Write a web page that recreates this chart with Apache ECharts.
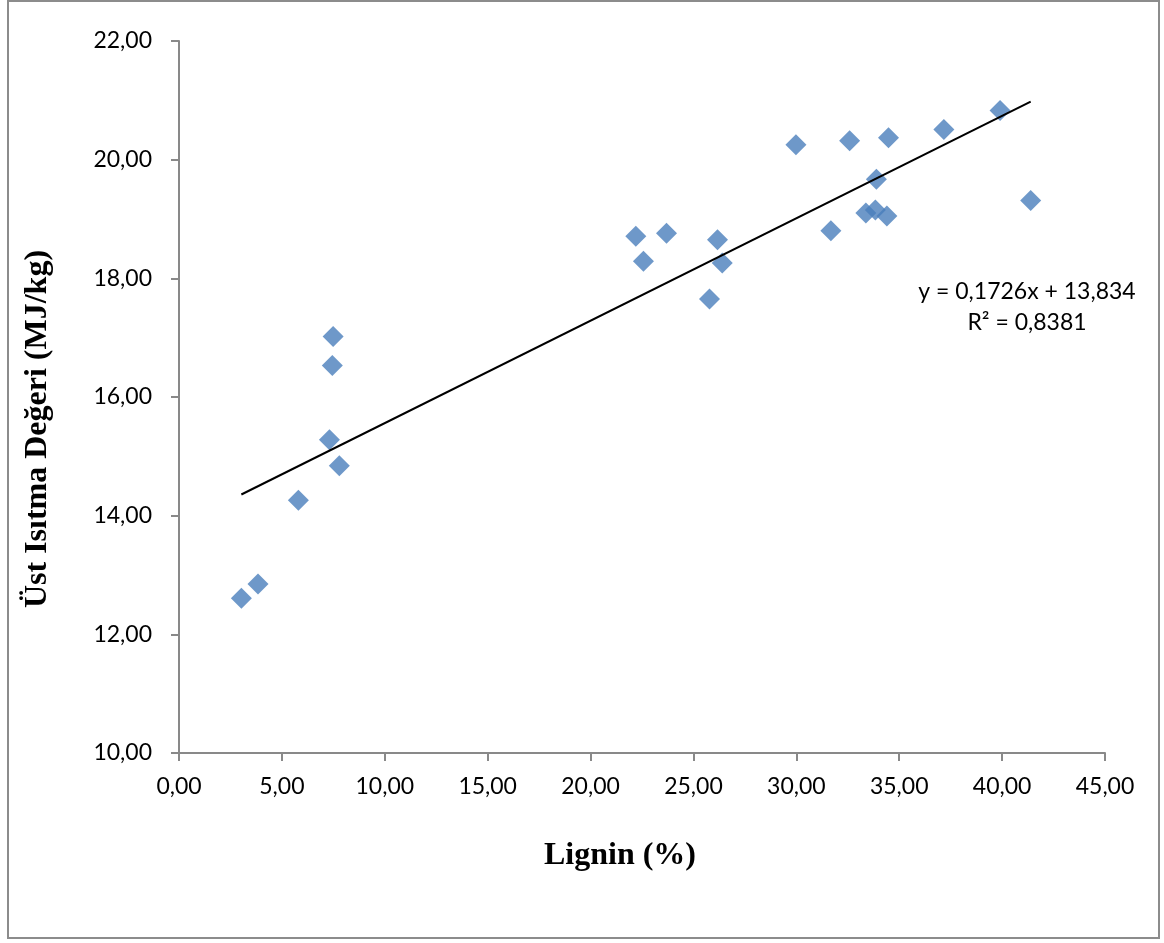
<!DOCTYPE html>
<html>
<head>
<meta charset="utf-8">
<script src="https://cdn.jsdelivr.net/npm/echarts@6/dist/echarts.min.js"></script>
<style>
  html, body { margin: 0; padding: 0; background: #fff; }
  #chart { width: 1164px; height: 943px; }
</style>
</head>
<body>
<div id="chart"></div>
<script>
// lignin content (%) and higher heating value (MJ/kg)
const lignin = [3.03, 3.84, 5.80, 7.31, 7.79, 7.45, 7.49,
  22.20, 22.57, 23.69, 25.78, 26.17, 26.40,
  29.98, 31.68, 32.59, 33.38, 33.84, 33.89, 34.40, 34.48,
  37.17, 39.90, 41.39]
const hhv = [12.61, 12.85, 14.26, 15.28, 14.84, 16.53, 17.02,
  18.71, 18.29, 18.76, 17.65, 18.65, 18.26,
  20.25, 18.80, 20.32, 19.10, 19.15, 19.67, 19.05, 20.37,
  20.51, 20.83, 19.31]

// linear trend from the picture's label
const slope = 0.1726
const intercept = 13.834
const equationLines = ['y = 0,1726x + 13,834', 'R² = 0,8381']

const xTitle = 'Lignin (%)'
const yTitle = 'Üst Isıtma Değeri (MJ/kg)'

const points = lignin.map((x, i) => [x, hhv[i]])
const xMin = Math.min(...lignin)
const xMax = Math.max(...lignin)
const trend = [[xMin, slope * xMin + intercept], [xMax, slope * xMax + intercept]]

const fmt = v => v.toFixed(2).replace('.', ',')
const labelFont = 'Lato'
const axisGray = '#898989'

const chart = echarts.init(document.getElementById('chart'))
chart.setOption({
  animation: false,
  grid: { left: 179, right: 59, top: 41, bottom: 190 },
  xAxis: {
    type: 'value',
    min: 0, max: 45, interval: 5,
    splitLine: { show: false },
    axisLine: { lineStyle: { color: axisGray, width: 2 } },
    axisTick: { length: 8, lineStyle: { color: axisGray, width: 2 } },
    axisLabel: { formatter: fmt, color: '#000', fontFamily: labelFont, fontSize: 23, margin: 22 }
  },
  yAxis: {
    type: 'value',
    min: 10, max: 22, interval: 2,
    splitLine: { show: false },
    axisLine: { show: true, lineStyle: { color: axisGray, width: 2 } },
    axisTick: { show: true, length: 8, lineStyle: { color: axisGray, width: 2 } },
    axisLabel: { formatter: fmt, color: '#000', fontFamily: labelFont, fontSize: 23, margin: 27 }
  },
  series: [
    {
      name: 'trend',
      type: 'line',
      data: trend,
      showSymbol: false,
      lineStyle: { color: '#000', width: 2 },
      z: 3
    },
    {
      name: 'samples',
      type: 'scatter',
      data: points,
      symbol: 'diamond',
      symbolSize: 21,
      itemStyle: { color: '#4A7EBB' },
      z: 2
    }
  ],
  graphic: [
    {
      type: 'rect',
      shape: { x: 8, y: 1, width: 1151, height: 937 },
      style: { fill: 'none', stroke: '#8c8c8c', lineWidth: 2 },
      silent: true
    },
    {
      type: 'text',
      x: 1027, y: 292,
      style: { text: equationLines[0], fill: '#000', font: '23px Lato', textAlign: 'center', textVerticalAlign: 'middle' }
    },
    {
      type: 'text',
      x: 1027, y: 323,
      style: { text: equationLines[1], fill: '#000', font: '23px Lato', textAlign: 'center', textVerticalAlign: 'middle' }
    },
    {
      type: 'text',
      x: 620, y: 856,
      style: { text: xTitle, fill: '#000', font: 'bold 32px "Liberation Serif"', textAlign: 'center', textVerticalAlign: 'middle' }
    },
    {
      type: 'text',
      x: 38, y: 429,
      rotation: Math.PI / 2,
      style: { text: yTitle, fill: '#000', font: 'bold 32px "Liberation Serif"', textAlign: 'center', textVerticalAlign: 'middle' }
    }
  ]
})
</script>
</body>
</html>
